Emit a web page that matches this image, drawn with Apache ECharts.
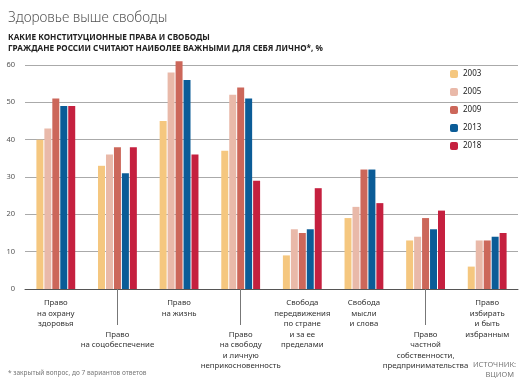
<!DOCTYPE html>
<html><head><meta charset="utf-8">
<script src="https://cdn.jsdelivr.net/npm/echarts@6/dist/echarts.min.js"></script>
<style>html,body{margin:0;padding:0;background:#fff}#c{width:527px;height:380px}</style>
</head><body><div id="c"></div>
<script>
const categories = [
  'Право\nна охрану\nздоровья',
  'Право\nна соцобеспечение',
  'Право\nна жизнь',
  'Право\nна свободу\nи личную\nнеприкосновенность',
  'Свобода\nпередвижения\nпо стране\nи за ее\nпределами',
  'Свобода\nмысли\nи слова',
  'Право\nчастной\nсобственности,\nпредпринимательства',
  'Право\nизбирать\nи быть\nизбранным'
];
const years = ['2003', '2005', '2009', '2013', '2018'];
const v2003 = [40, 33, 45, 37, 9, 19, 13, 6];
const v2005 = [43, 36, 58, 52, 16, 22, 14, 13];
const v2009 = [51, 38, 61, 54, 15, 32, 19, 13];
const v2013 = [49, 31, 56, 51, 16, 32, 16, 14];
const v2018 = [49, 38, 36, 29, 27, 23, 21, 15];
const yTicks = [0, 10, 20, 30, 40, 50, 60];

const seriesValues = [v2003, v2005, v2009, v2013, v2018];
const colors = ['#F5C77F', '#E9B9A9', '#CC675A', '#0B5C97', '#C5203F'];
const lowered = [1, 3, 6];
const font = "'Noto Sans', 'Open Sans', sans-serif";

const chart = echarts.init(document.getElementById('c'));
chart.setOption({
  animation: false,
  textStyle: { fontFamily: font },
  title: [
    { text: 'Здоровье выше свободы', left: 3, top: 6,
      textStyle: { fontSize: 13.6, fontWeight: 300, color: '#555', fontFamily: font } },
    { text: 'КАКИЕ КОНСТИТУЦИОННЫЕ ПРАВА И СВОБОДЫ\nГРАЖДАНЕ РОССИИ СЧИТАЮТ НАИБОЛЕЕ ВАЖНЫМИ ДЛЯ СЕБЯ ЛИЧНО*, %',
      left: 3, top: 27,
      textStyle: { fontSize: 8.2, fontWeight: 'bold', color: '#222', lineHeight: 11, fontFamily: font } },
    { text: '* закрытый вопрос, до 7 вариантов ответов', left: 3, top: 365,
      textStyle: { fontSize: 6.5, fontWeight: 'normal', color: '#777', fontFamily: font } },
    { text: 'ИСТОЧНИК:', right: 6, top: 356,
      textStyle: { fontSize: 7.5, fontWeight: 'normal', color: '#777', fontFamily: font } },
    { text: 'ВЦИОМ', right: 8, top: 366,
      textStyle: { fontSize: 7.5, fontWeight: 'normal', color: '#777', fontFamily: font } }
  ],
  legend: {
    orient: 'vertical', left: 445, top: 65,
    itemWidth: 8, itemHeight: 8, itemGap: 10,
    textStyle: { fontSize: 8, color: '#222', fontFamily: font },
    data: years
  },
  grid: { left: 25, right: 9, top: 65, bottom: 91, containLabel: false },
  xAxis: {
    type: 'category', data: categories,
    axisLine: { lineStyle: { color: '#555', width: 1 } },
    axisTick: {
      show: true, alignWithLabel: true, length: 36,
      interval: (i) => lowered.indexOf(i) >= 0,
      lineStyle: { color: '#777', width: 1 }
    },
    axisLabel: {
      interval: 0, margin: 9, fontSize: 7.8, color: '#333', lineHeight: 10.5,
      formatter: (v, i) => (lowered.indexOf(i) >= 0 ? '\n\n\n' : '') + v
    }
  },
  yAxis: {
    type: 'value', min: 0, max: 60, interval: 10,
    axisLabel: { fontSize: 7.5, color: '#555', margin: 10,
      formatter: (v) => yTicks.indexOf(v) >= 0 ? String(v) : '' },
    splitLine: { lineStyle: { color: '#aaa', width: 1 } },
    axisLine: { show: false }, axisTick: { show: false }
  },
  series: years.map((y, k) => ({
    name: y, type: 'bar', data: seriesValues[k], clip: false,
    barGap: '14%', barCategoryGap: '37%',
    itemStyle: { color: colors[k] }
  }))
});
</script></body></html>
